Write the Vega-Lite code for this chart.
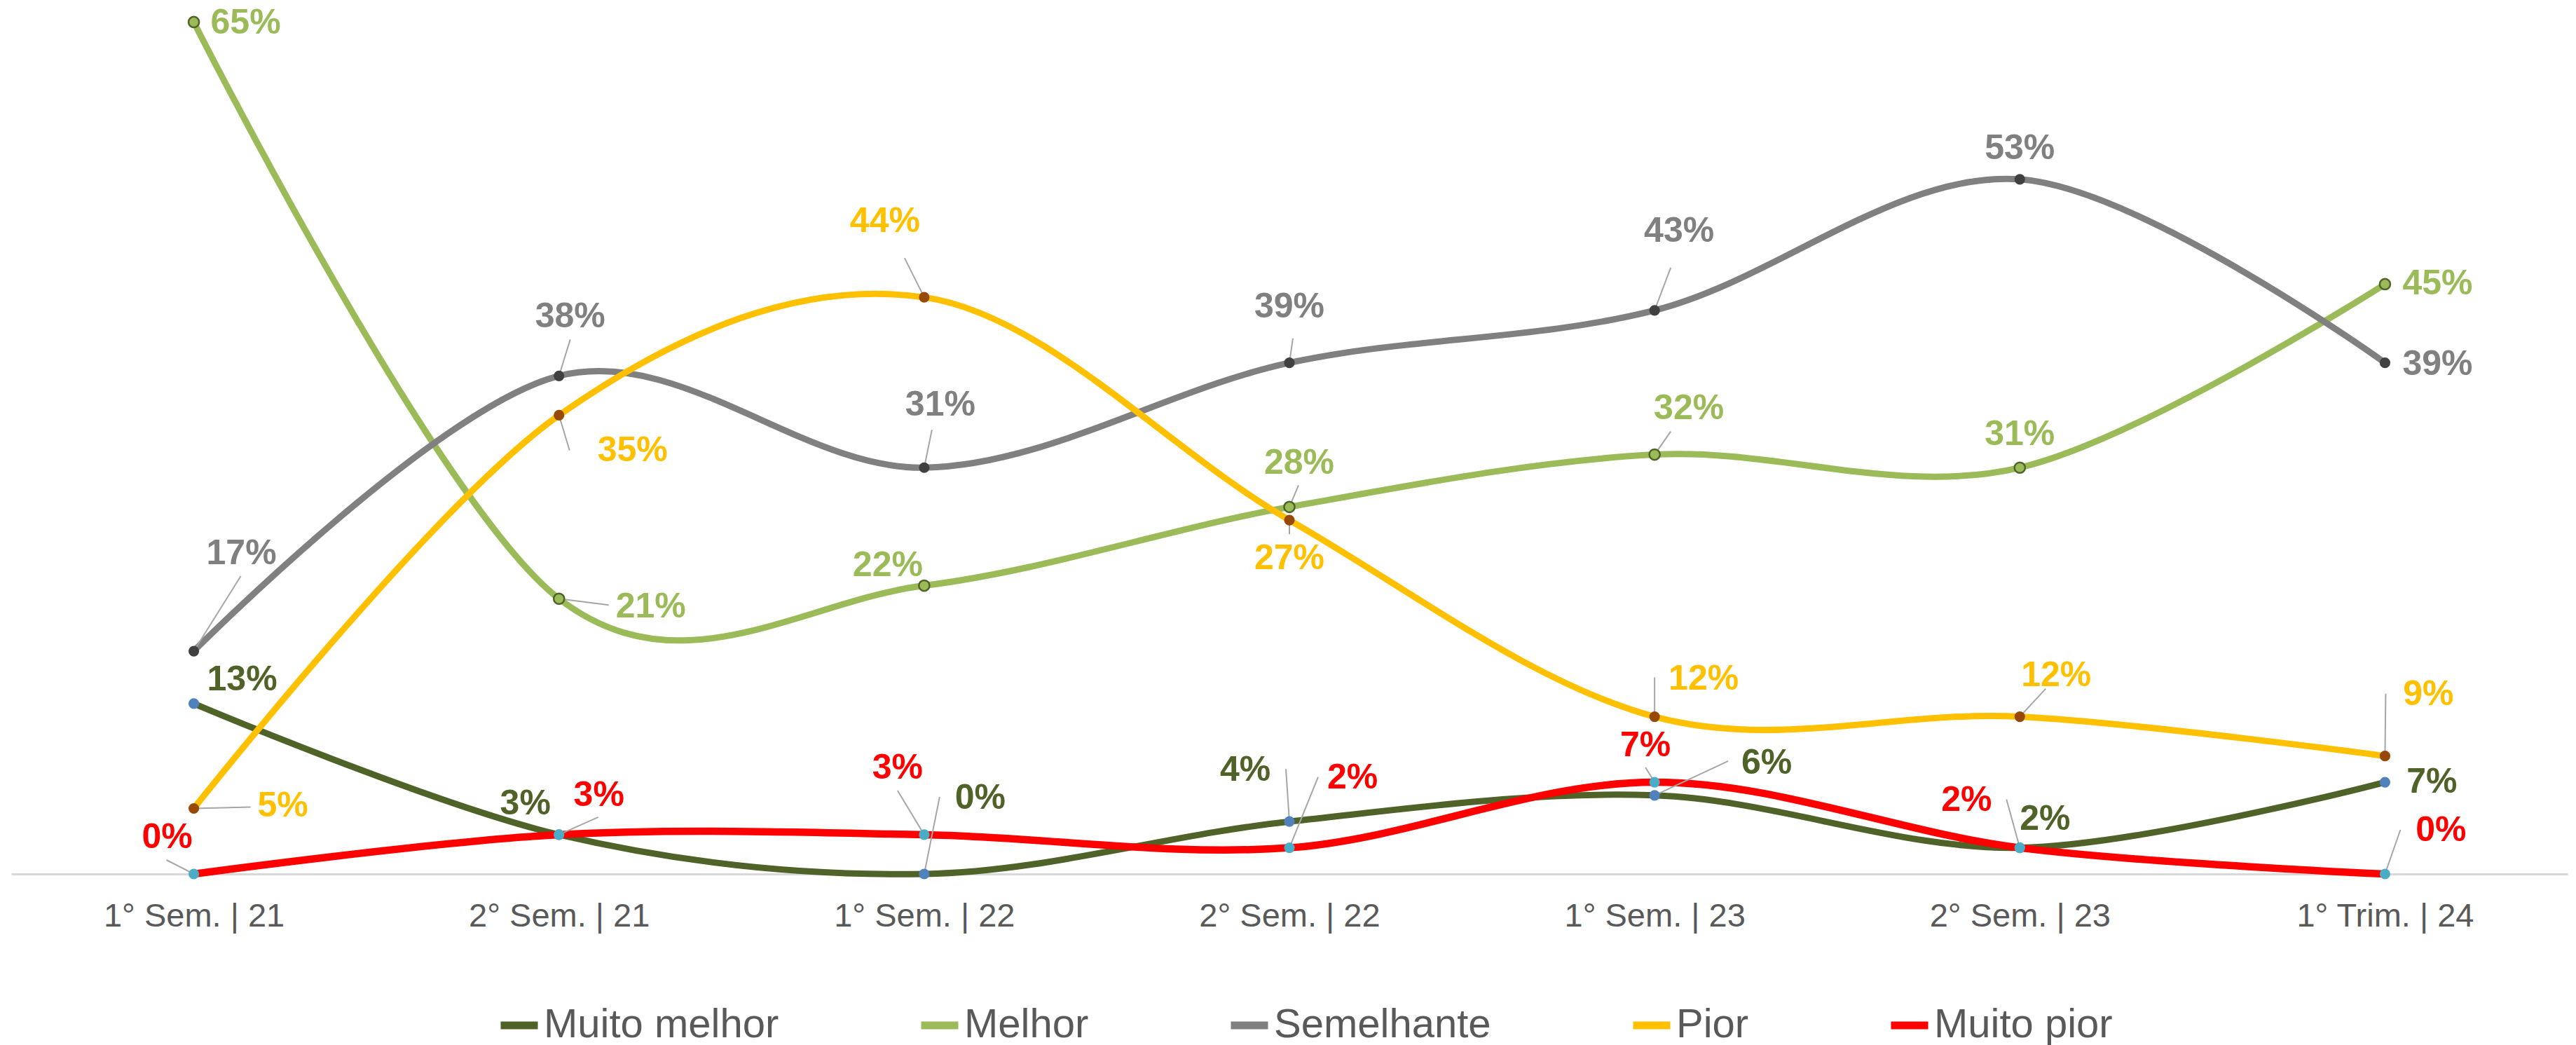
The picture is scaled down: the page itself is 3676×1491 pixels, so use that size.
{
"$schema":"https://vega.github.io/schema/vega-lite/v6.json",
"width":3648,"height":1247,"autosize":{"type":"none"},
"padding":{"left":16,"top":0,"right":12,"bottom":244},
"background":"#FFFFFF",
"config":{"view":{"stroke":null},"font":"Liberation Sans","text":{"font":"Liberation Sans","fontSize":50,"fontWeight":"bold"}},
"data":{"values":[
{"s":"Muito melhor","p":"1° Sem. | 21","v":0.13},{"s":"Muito melhor","p":"2° Sem. | 21","v":0.03},{"s":"Muito melhor","p":"1° Sem. | 22","v":0.0},{"s":"Muito melhor","p":"2° Sem. | 22","v":0.04},{"s":"Muito melhor","p":"1° Sem. | 23","v":0.06},{"s":"Muito melhor","p":"2° Sem. | 23","v":0.02},{"s":"Muito melhor","p":"1° Trim. | 24","v":0.07},
{"s":"Melhor","p":"1° Sem. | 21","v":0.65},{"s":"Melhor","p":"2° Sem. | 21","v":0.21},{"s":"Melhor","p":"1° Sem. | 22","v":0.22},{"s":"Melhor","p":"2° Sem. | 22","v":0.28},{"s":"Melhor","p":"1° Sem. | 23","v":0.32},{"s":"Melhor","p":"2° Sem. | 23","v":0.31},{"s":"Melhor","p":"1° Trim. | 24","v":0.45},
{"s":"Semelhante","p":"1° Sem. | 21","v":0.17},{"s":"Semelhante","p":"2° Sem. | 21","v":0.38},{"s":"Semelhante","p":"1° Sem. | 22","v":0.31},{"s":"Semelhante","p":"2° Sem. | 22","v":0.39},{"s":"Semelhante","p":"1° Sem. | 23","v":0.43},{"s":"Semelhante","p":"2° Sem. | 23","v":0.53},{"s":"Semelhante","p":"1° Trim. | 24","v":0.39},
{"s":"Pior","p":"1° Sem. | 21","v":0.05},{"s":"Pior","p":"2° Sem. | 21","v":0.35},{"s":"Pior","p":"1° Sem. | 22","v":0.44},{"s":"Pior","p":"2° Sem. | 22","v":0.27},{"s":"Pior","p":"1° Sem. | 23","v":0.12},{"s":"Pior","p":"2° Sem. | 23","v":0.12},{"s":"Pior","p":"1° Trim. | 24","v":0.09},
{"s":"Muito pior","p":"1° Sem. | 21","v":0.0},{"s":"Muito pior","p":"2° Sem. | 21","v":0.03},{"s":"Muito pior","p":"1° Sem. | 22","v":0.03},{"s":"Muito pior","p":"2° Sem. | 22","v":0.02},{"s":"Muito pior","p":"1° Sem. | 23","v":0.07},{"s":"Muito pior","p":"2° Sem. | 23","v":0.02},{"s":"Muito pior","p":"1° Trim. | 24","v":0.0}
]},
"encoding":{
"x":{"field":"p","type":"ordinal","sort":null,"scale":{"type":"point","padding":0.5},"axis":{"title":null,"labelAngle":0,"labelFontSize":47,"labelColor":"#595959","labelFont":"Liberation Sans","labelPadding":37,"ticks":false,"tickSize":0,"domainColor":"#D9D9D9","domainWidth":3,"grid":false,"labelLimit":1000}},
"y":{"field":"v","type":"quantitative","scale":{"domain":[0,0.6668],"nice":false,"zero":true},"axis":null}
},
"layer":[
{"mark":{"type":"line","interpolate":"cardinal","strokeWidth":9,"strokeCap":"round"},
 "encoding":{"stroke":{"field":"s","type":"nominal","sort":["Muito melhor","Melhor","Semelhante","Pior","Muito pior"],"scale":{"range":["#4F6228","#9BBB59","#808080","#FFC000","#FF0000"]},
 "legend":{"title":null,"orient":"none","legendX":693,"legendY":1431,"direction":"horizontal","symbolType":"stroke","symbolSize":2809,"symbolStrokeWidth":11,"symbolOpacity":1,"labelFontSize":58,"labelColor":"#595959","labelFont":"Liberation Sans","labelOffset":3,"columnPadding":180,"padding":0,"labelLimit":1000}}}},
{"transform":[{"filter":"datum.s=='Muito pior'"}],"mark":{"type":"line","interpolate":"cardinal","strokeWidth":10.5,"strokeCap":"round","stroke":"#FF0000"},"encoding":{}},
{"encoding":{"x2":{"field":"p"},"y2":{"field":"v"}},
 "layer":[
 {"transform":[{"filter":"datum.s=='Muito melhor'&&datum.p=='1° Sem. | 22'"}],"mark":{"type":"rule","color":"#A6A6A6","strokeWidth":2,"x2Offset":22,"y2Offset":-110},"encoding":{}},
 {"transform":[{"filter":"datum.s=='Muito melhor'&&datum.p=='2° Sem. | 22'"}],"mark":{"type":"rule","color":"#A6A6A6","strokeWidth":2,"x2Offset":-5,"y2Offset":-75},"encoding":{}},
 {"transform":[{"filter":"datum.s=='Muito melhor'&&datum.p=='1° Sem. | 23'"}],"mark":{"type":"rule","color":"#A6A6A6","strokeWidth":2,"x2Offset":105,"y2Offset":-49},"encoding":{}},
 {"transform":[{"filter":"datum.s=='Melhor'&&datum.p=='2° Sem. | 21'"}],"mark":{"type":"rule","color":"#A6A6A6","strokeWidth":2,"x2Offset":71,"y2Offset":9},"encoding":{}},
 {"transform":[{"filter":"datum.s=='Melhor'&&datum.p=='2° Sem. | 22'"}],"mark":{"type":"rule","color":"#A6A6A6","strokeWidth":2,"x2Offset":13,"y2Offset":-31},"encoding":{}},
 {"transform":[{"filter":"datum.s=='Melhor'&&datum.p=='1° Sem. | 23'"}],"mark":{"type":"rule","color":"#A6A6A6","strokeWidth":2,"x2Offset":23,"y2Offset":-33},"encoding":{}},
 {"transform":[{"filter":"datum.s=='Semelhante'&&datum.p=='1° Sem. | 21'"}],"mark":{"type":"rule","color":"#A6A6A6","strokeWidth":2,"x2Offset":67,"y2Offset":-107},"encoding":{}},
 {"transform":[{"filter":"datum.s=='Semelhante'&&datum.p=='2° Sem. | 21'"}],"mark":{"type":"rule","color":"#A6A6A6","strokeWidth":2,"x2Offset":16,"y2Offset":-52},"encoding":{}},
 {"transform":[{"filter":"datum.s=='Semelhante'&&datum.p=='1° Sem. | 22'"}],"mark":{"type":"rule","color":"#A6A6A6","strokeWidth":2,"x2Offset":11,"y2Offset":-54},"encoding":{}},
 {"transform":[{"filter":"datum.s=='Semelhante'&&datum.p=='2° Sem. | 22'"}],"mark":{"type":"rule","color":"#A6A6A6","strokeWidth":2,"x2Offset":5,"y2Offset":-35},"encoding":{}},
 {"transform":[{"filter":"datum.s=='Semelhante'&&datum.p=='1° Sem. | 23'"}],"mark":{"type":"rule","color":"#A6A6A6","strokeWidth":2,"x2Offset":23,"y2Offset":-61},"encoding":{}},
 {"transform":[{"filter":"datum.s=='Pior'&&datum.p=='1° Sem. | 21'"}],"mark":{"type":"rule","color":"#A6A6A6","strokeWidth":2,"x2Offset":81,"y2Offset":-2},"encoding":{}},
 {"transform":[{"filter":"datum.s=='Pior'&&datum.p=='2° Sem. | 21'"}],"mark":{"type":"rule","color":"#A6A6A6","strokeWidth":2,"x2Offset":15,"y2Offset":50},"encoding":{}},
 {"transform":[{"filter":"datum.s=='Pior'&&datum.p=='1° Sem. | 22'"}],"mark":{"type":"rule","color":"#A6A6A6","strokeWidth":2,"x2Offset":-28,"y2Offset":-56},"encoding":{}},
 {"transform":[{"filter":"datum.s=='Pior'&&datum.p=='2° Sem. | 22'"}],"mark":{"type":"rule","color":"#A6A6A6","strokeWidth":2,"x2Offset":0,"y2Offset":20},"encoding":{}},
 {"transform":[{"filter":"datum.s=='Pior'&&datum.p=='1° Sem. | 23'"}],"mark":{"type":"rule","color":"#A6A6A6","strokeWidth":2,"x2Offset":0,"y2Offset":-56},"encoding":{}},
 {"transform":[{"filter":"datum.s=='Pior'&&datum.p=='2° Sem. | 23'"}],"mark":{"type":"rule","color":"#A6A6A6","strokeWidth":2,"x2Offset":37,"y2Offset":-40},"encoding":{}},
 {"transform":[{"filter":"datum.s=='Pior'&&datum.p=='1° Trim. | 24'"}],"mark":{"type":"rule","color":"#A6A6A6","strokeWidth":2,"x2Offset":1,"y2Offset":-89},"encoding":{}},
 {"transform":[{"filter":"datum.s=='Muito pior'&&datum.p=='1° Sem. | 21'"}],"mark":{"type":"rule","color":"#A6A6A6","strokeWidth":2,"x2Offset":-39,"y2Offset":-20},"encoding":{}},
 {"transform":[{"filter":"datum.s=='Muito pior'&&datum.p=='2° Sem. | 21'"}],"mark":{"type":"rule","color":"#A6A6A6","strokeWidth":2,"x2Offset":56,"y2Offset":-25},"encoding":{}},
 {"transform":[{"filter":"datum.s=='Muito pior'&&datum.p=='1° Sem. | 22'"}],"mark":{"type":"rule","color":"#A6A6A6","strokeWidth":2,"x2Offset":-38,"y2Offset":-63},"encoding":{}},
 {"transform":[{"filter":"datum.s=='Muito pior'&&datum.p=='2° Sem. | 22'"}],"mark":{"type":"rule","color":"#A6A6A6","strokeWidth":2,"x2Offset":41,"y2Offset":-101},"encoding":{}},
 {"transform":[{"filter":"datum.s=='Muito pior'&&datum.p=='1° Sem. | 23'"}],"mark":{"type":"rule","color":"#A6A6A6","strokeWidth":2,"x2Offset":-13,"y2Offset":-21},"encoding":{}},
 {"transform":[{"filter":"datum.s=='Muito pior'&&datum.p=='2° Sem. | 23'"}],"mark":{"type":"rule","color":"#A6A6A6","strokeWidth":2,"x2Offset":-19,"y2Offset":-69},"encoding":{}},
 {"transform":[{"filter":"datum.s=='Muito pior'&&datum.p=='1° Trim. | 24'"}],"mark":{"type":"rule","color":"#A6A6A6","strokeWidth":2,"x2Offset":22,"y2Offset":-63},"encoding":{}}
 ]},
{"mark":{"type":"point","filled":true,"size":230,"opacity":1,"strokeWidth":0},
 "encoding":{"fill":{"field":"s","type":"nominal","scale":{"domain":["Muito melhor","Melhor","Semelhante","Pior","Muito pior"],"range":["#4F81BD","#9BBB59","#404040","#984807","#4BACC6"]},"legend":null}}},
{"transform":[{"filter":"datum.s=='Melhor'"}],"mark":{"type":"point","filled":false,"size":230,"opacity":1,"strokeWidth":2.5,"stroke":"#4F6228"},"encoding":{}},
{"encoding":{"text":{"field":"v","type":"quantitative","format":".0%"},"color":{"field":"s","type":"nominal","scale":{"domain":["Muito melhor","Melhor","Semelhante","Pior","Muito pior"],"range":["#4F6228","#9BBB59","#808080","#FFC000","#FF0000"]},"legend":null}},
 "layer":[
 {"transform":[{"filter":"datum.s=='Muito melhor'&&datum.p=='1° Sem. | 21'"}],"mark":{"type":"text","dx":69,"dy":-34}},
 {"transform":[{"filter":"datum.s=='Muito melhor'&&datum.p=='2° Sem. | 21'"}],"mark":{"type":"text","dx":-48,"dy":-44}},
 {"transform":[{"filter":"datum.s=='Muito melhor'&&datum.p=='1° Sem. | 22'"}],"mark":{"type":"text","dx":80,"dy":-108}},
 {"transform":[{"filter":"datum.s=='Muito melhor'&&datum.p=='2° Sem. | 22'"}],"mark":{"type":"text","dx":-63,"dy":-73}},
 {"transform":[{"filter":"datum.s=='Muito melhor'&&datum.p=='1° Sem. | 23'"}],"mark":{"type":"text","dx":160,"dy":-46}},
 {"transform":[{"filter":"datum.s=='Muito melhor'&&datum.p=='2° Sem. | 23'"}],"mark":{"type":"text","dx":36,"dy":-41}},
 {"transform":[{"filter":"datum.s=='Muito melhor'&&datum.p=='1° Trim. | 24'"}],"mark":{"type":"text","dx":67,"dy":0}},
 {"transform":[{"filter":"datum.s=='Melhor'&&datum.p=='1° Sem. | 21'"}],"mark":{"type":"text","dx":74,"dy":2}},
 {"transform":[{"filter":"datum.s=='Melhor'&&datum.p=='2° Sem. | 21'"}],"mark":{"type":"text","dx":131,"dy":12}},
 {"transform":[{"filter":"datum.s=='Melhor'&&datum.p=='1° Sem. | 22'"}],"mark":{"type":"text","dx":-52,"dy":-29}},
 {"transform":[{"filter":"datum.s=='Melhor'&&datum.p=='2° Sem. | 22'"}],"mark":{"type":"text","dx":14,"dy":-62}},
 {"transform":[{"filter":"datum.s=='Melhor'&&datum.p=='1° Sem. | 23'"}],"mark":{"type":"text","dx":49,"dy":-66}},
 {"transform":[{"filter":"datum.s=='Melhor'&&datum.p=='2° Sem. | 23'"}],"mark":{"type":"text","dx":0,"dy":-47}},
 {"transform":[{"filter":"datum.s=='Melhor'&&datum.p=='1° Trim. | 24'"}],"mark":{"type":"text","dx":75,"dy":0}},
 {"transform":[{"filter":"datum.s=='Semelhante'&&datum.p=='1° Sem. | 21'"}],"mark":{"type":"text","dx":68,"dy":-139}},
 {"transform":[{"filter":"datum.s=='Semelhante'&&datum.p=='2° Sem. | 21'"}],"mark":{"type":"text","dx":16,"dy":-84}},
 {"transform":[{"filter":"datum.s=='Semelhante'&&datum.p=='1° Sem. | 22'"}],"mark":{"type":"text","dx":23,"dy":-89}},
 {"transform":[{"filter":"datum.s=='Semelhante'&&datum.p=='2° Sem. | 22'"}],"mark":{"type":"text","dx":0,"dy":-80}},
 {"transform":[{"filter":"datum.s=='Semelhante'&&datum.p=='1° Sem. | 23'"}],"mark":{"type":"text","dx":35,"dy":-113}},
 {"transform":[{"filter":"datum.s=='Semelhante'&&datum.p=='2° Sem. | 23'"}],"mark":{"type":"text","dx":0,"dy":-44}},
 {"transform":[{"filter":"datum.s=='Semelhante'&&datum.p=='1° Trim. | 24'"}],"mark":{"type":"text","dx":75,"dy":2}},
 {"transform":[{"filter":"datum.s=='Pior'&&datum.p=='1° Sem. | 21'"}],"mark":{"type":"text","dx":127,"dy":-3}},
 {"transform":[{"filter":"datum.s=='Pior'&&datum.p=='2° Sem. | 21'"}],"mark":{"type":"text","dx":105,"dy":51}},
 {"transform":[{"filter":"datum.s=='Pior'&&datum.p=='1° Sem. | 22'"}],"mark":{"type":"text","dx":-56,"dy":-108}},
 {"transform":[{"filter":"datum.s=='Pior'&&datum.p=='2° Sem. | 22'"}],"mark":{"type":"text","dx":0,"dy":55}},
 {"transform":[{"filter":"datum.s=='Pior'&&datum.p=='1° Sem. | 23'"}],"mark":{"type":"text","dx":70,"dy":-54}},
 {"transform":[{"filter":"datum.s=='Pior'&&datum.p=='2° Sem. | 23'"}],"mark":{"type":"text","dx":52,"dy":-59}},
 {"transform":[{"filter":"datum.s=='Pior'&&datum.p=='1° Trim. | 24'"}],"mark":{"type":"text","dx":62,"dy":-88}},
 {"transform":[{"filter":"datum.s=='Muito pior'&&datum.p=='1° Sem. | 21'"}],"mark":{"type":"text","dx":-38,"dy":-52}},
 {"transform":[{"filter":"datum.s=='Muito pior'&&datum.p=='2° Sem. | 21'"}],"mark":{"type":"text","dx":57,"dy":-56}},
 {"transform":[{"filter":"datum.s=='Muito pior'&&datum.p=='1° Sem. | 22'"}],"mark":{"type":"text","dx":-38,"dy":-95}},
 {"transform":[{"filter":"datum.s=='Muito pior'&&datum.p=='2° Sem. | 22'"}],"mark":{"type":"text","dx":90,"dy":-100}},
 {"transform":[{"filter":"datum.s=='Muito pior'&&datum.p=='1° Sem. | 23'"}],"mark":{"type":"text","dx":-13,"dy":-52}},
 {"transform":[{"filter":"datum.s=='Muito pior'&&datum.p=='2° Sem. | 23'"}],"mark":{"type":"text","dx":-76,"dy":-68}},
 {"transform":[{"filter":"datum.s=='Muito pior'&&datum.p=='1° Trim. | 24'"}],"mark":{"type":"text","dx":80,"dy":-62}}
 ]}
]
}
